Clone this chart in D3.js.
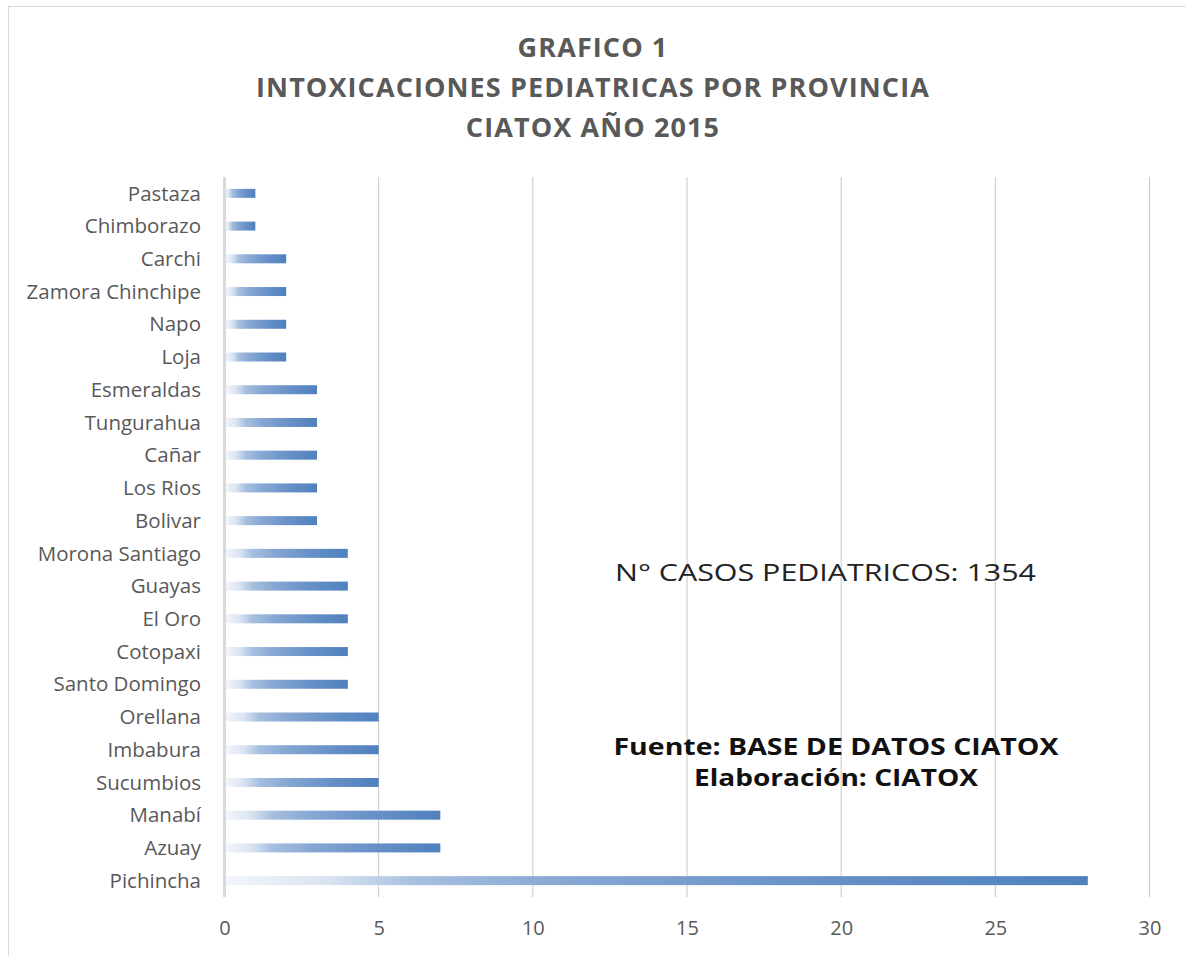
<!DOCTYPE html>
<html>
<head>
<meta charset="utf-8">
<script src="https://cdn.jsdelivr.net/npm/d3@7/dist/d3.min.js"></script>
<style>
  html, body { margin: 0; padding: 0; background: #fff; }
  svg { display: block; }
</style>
</head>
<body>
<svg id="chart" width="1186" height="956"></svg>
<script>
// Provinces, top to bottom as shown on the axis
const provinces = [
  "Pastaza", "Chimborazo", "Carchi", "Zamora Chinchipe", "Napo", "Loja",
  "Esmeraldas", "Tungurahua", "Cañar", "Los Rios", "Bolivar",
  "Morona Santiago", "Guayas", "El Oro", "Cotopaxi", "Santo Domingo",
  "Orellana", "Imbabura", "Sucumbios", "Manabí", "Azuay", "Pichincha"
];
// Pediatric poisoning cases per province
const cases = [1, 1, 2, 2, 2, 2, 3, 3, 3, 3, 3, 4, 4, 4, 4, 4, 5, 5, 5, 7, 7, 28];
const xTicks = [0, 5, 10, 15, 20, 25, 30];
const titleLines = ["GRAFICO 1", "INTOXICACIONES PEDIATRICAS POR PROVINCIA", "CIATOX AÑO 2015"];
const totalNote = "N° CASOS PEDIATRICOS: 1354";
const sourceLines = ["Fuente: BASE DE DATOS CIATOX", "Elaboración: CIATOX"];

const svg = d3.select("#chart");

// chart frame
svg.append("rect")
  .attr("x", 8.5).attr("y", 6.5)
  .attr("width", 1190).attr("height", 960)
  .attr("fill", "#fff").attr("stroke", "#d9d9d9").attr("stroke-width", 1);

const x = d3.scaleLinear().domain([0, 30]).range([224.5, 1149.5]);
const y = d3.scaleBand().domain(provinces).range([177, 897]).paddingInner(0.72).paddingOuter(0.36);

// gradient fill for the bars (white on the left to blue on the right)
const defs = svg.append("defs");
const grad = defs.append("linearGradient")
  .attr("id", "barFill").attr("x1", "0%").attr("x2", "100%").attr("y1", "0%").attr("y2", "0%");
[[0, "#f3f6fb"], [0.12, "#d9e3f1"], [0.22, "#a6bfdf"], [0.4, "#86a7d3"], [0.7, "#6690c7"], [1, "#4f81bd"]]
  .forEach(([o, c]) => grad.append("stop").attr("offset", o).attr("stop-color", c));

// vertical gridlines
svg.append("g")
  .selectAll("line")
  .data(xTicks.filter(t => t > 0))
  .join("line")
  .attr("x1", d => x(d)).attr("x2", d => x(d))
  .attr("y1", 177).attr("y2", 897)
  .attr("stroke", "#c8c8c8").attr("stroke-width", 1);

// bars
svg.append("g")
  .selectAll("rect")
  .data(provinces.map((p, i) => ({ p, v: cases[i] })))
  .join("rect")
  .attr("x", x(0) + 1)
  .attr("y", d => y(d.p) + y.bandwidth() / 2 - 4.5)
  .attr("width", d => x(d.v) - x(0) - 1)
  .attr("height", 9)
  .attr("fill", "url(#barFill)");

// zero axis line
svg.append("line")
  .attr("x1", x(0)).attr("x2", x(0))
  .attr("y1", 177).attr("y2", 897)
  .attr("stroke", "#d9d9d9").attr("stroke-width", 3);

// category axis labels
const yAxis = d3.axisLeft(y).tickSize(0).tickPadding(0);
const gy = svg.append("g").attr("transform", "translate(201,0)").call(yAxis);
gy.select(".domain").remove();
gy.selectAll("text")
  .attr("font-family", "'Open Sans', sans-serif")
  .attr("font-size", 20.5)
  .attr("fill", "#595959")
  .attr("dy", "0.35em");

// value axis labels
const xAxis = d3.axisBottom(x).tickValues(xTicks).tickSize(0).tickPadding(0);
const gx = svg.append("g").attr("transform", "translate(0,928)").call(xAxis);
gx.select(".domain").remove();
gx.selectAll("text")
  .attr("font-family", "'Open Sans', sans-serif")
  .attr("font-size", 20)
  .attr("fill", "#595959")
  .attr("dy", "0.35em");

// title
svg.append("g")
  .selectAll("text")
  .data(titleLines)
  .join("text")
  .attr("x", 593).attr("y", (d, i) => 57 + i * 40)
  .attr("text-anchor", "middle")
  .attr("font-family", "'Open Sans', sans-serif")
  .attr("font-weight", "bold")
  .attr("font-size", 27)
  .attr("letter-spacing", 1.1)
  .attr("fill", "#595959")
  .text(d => d);

// total cases note
svg.append("text")
  .attr("x", 825.5).attr("y", 581)
  .attr("text-anchor", "middle")
  .attr("font-family", "'Open Sans', sans-serif")
  .attr("font-size", 24)
  .attr("textLength", 421)
  .attr("lengthAdjust", "spacingAndGlyphs")
  .attr("fill", "#222")
  .text(totalNote);

// source note
const srcWidths = [445, 284];
svg.append("g")
  .selectAll("text")
  .data(sourceLines)
  .join("text")
  .attr("x", 836).attr("y", (d, i) => 755 + i * 31)
  .attr("text-anchor", "middle")
  .attr("font-family", "'Open Sans', sans-serif")
  .attr("font-weight", "bold")
  .attr("font-size", 23)
  .attr("textLength", (d, i) => srcWidths[i])
  .attr("lengthAdjust", "spacingAndGlyphs")
  .attr("fill", "#111")
  .text(d => d);
</script>
</body>
</html>
